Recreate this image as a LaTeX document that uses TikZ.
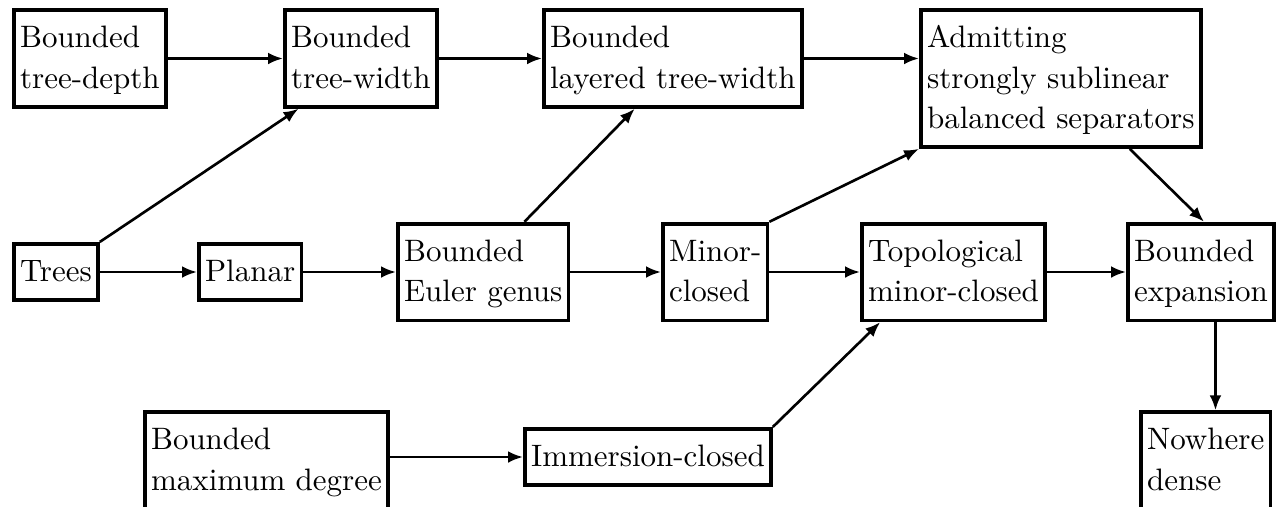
\documentclass[tikz,border=0pt]{standalone}
\usetikzlibrary{arrows.meta}
\newcommand\bline[1]{\hbox{\rule[-3.4pt]{0pt}{13pt}#1}}
\newcommand\mlines[1]{\vbox{\offinterlineskip #1}}
\begin{document}
\begin{tikzpicture}[x=0.32258pt, y=-0.32258pt,
  box/.style={draw, line width=1.2pt, inner xsep=2pt, inner ysep=2.6pt, anchor=west},
  arr/.style={line width=0.85pt, -{Latex[length=4.8pt,width=3.8pt]}}]
\useasboundingbox (0,0) rectangle (1277,506);
% top row
\node[box] (TD) at (12,58.5) {\mlines{\bline{Bounded}\bline{tree-depth}}};
\node[box] (TW) at (283,58.5) {\mlines{\bline{Bounded}\bline{tree-width}}};
\node[box] (LTW) at (542,58.5) {\mlines{\bline{Bounded}\bline{layered tree-width}}};
\node[box] (A) at (919,78.5) {\mlines{\bline{Admitting}\bline{strongly sublinear}\bline{balanced separators}}};
% middle row
\node[box] (Tr) at (12,272) {\mlines{\bline{Trees}}};
\node[box] (Pl) at (197,272) {\mlines{\bline{Planar}}};
\node[box] (EG) at (396,272) {\mlines{\bline{Bounded}\bline{Euler genus}}};
\node[box] (MC) at (661,272) {\mlines{\bline{Minor-}\bline{closed}}};
\node[box] (TMC) at (860,272) {\mlines{\bline{Topological}\bline{minor-closed}}};
\node[box] (BE) at (1126,272) {\mlines{\bline{Bounded}\bline{expansion}}};
% bottom row
\node[box] (MD) at (143,460.5) {\mlines{\bline{Bounded}\bline{maximum degree}}};
\node[box] (IC) at (523,457) {\mlines{\bline{Immersion-closed}}};
\node[box] (ND) at (1139,460.5) {\mlines{\bline{Nowhere}\bline{dense}}};
% connectors
\draw[arr] (TD.east) -- (TW.west);
\draw[arr] (TW.east) -- (LTW.west);
\draw[arr] (LTW.east) -- (LTW.east -| A.west);
\draw[arr] (Tr.north east) -- ([xshift=5pt]TW.south west);
\draw[arr] (Tr.east) -- (Pl.west);
\draw[arr] (Pl.east) -- (EG.west);
\draw[arr] ([xshift=13.3pt]EG.north) -- ([xshift=-12.3pt]LTW.south);
\draw[arr] (EG.east) -- (MC.west);
\draw[arr] (MC.north east) -- (A.south west);
\draw[arr] (MC.east) -- (TMC.west);
\draw[arr] (TMC.east) -- (BE.west);
\draw[arr] ([xshift=-23.5pt]A.south east) -- ([xshift=1pt]BE.north);
\draw[arr] ([xshift=4.7pt]BE.south) -- ([xshift=4.7pt]BE.south |- ND.north);
\draw[arr] (MD.east |- IC.west) -- (IC.west);
\draw[arr] (IC.north east) -- ([xshift=6.5pt]TMC.south west);
\end{tikzpicture}
\end{document}
